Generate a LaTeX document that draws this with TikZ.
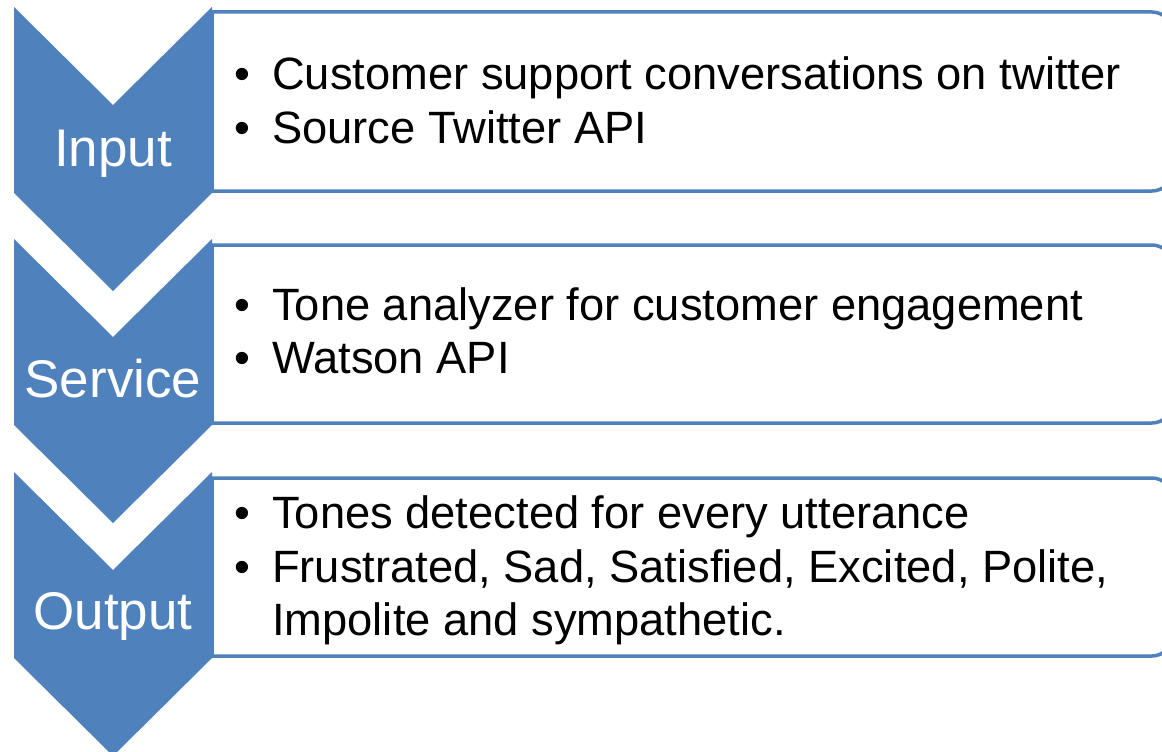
\documentclass[tikz,border=0pt]{standalone}
\usepackage{fontspec}
\setmainfont{Liberation Sans}
\definecolor{acc}{HTML}{4F81BD}
\begin{document}
\begin{tikzpicture}[x=1pt,y=-1pt,
  chev/.style={fill=acc,draw=none},
  panel/.style={draw=acc,line width=3.5pt,fill=white},
  lbl/.style={text=white,font=\fontsize{53}{60}\selectfont,anchor=base,inner sep=0pt},
  item/.style={font=\fontsize{45.3}{54}\selectfont,anchor=base west,inner sep=0pt},
  bul/.style={font=\fontsize{45.3}{54}\selectfont,anchor=base west,inner sep=0pt},
]
\useasboundingbox (0,0) rectangle (1162,752);
% panels
\draw[panel] (212,191) -- (212,12) [rounded corners=20pt] -- (1172,12) -- (1172,191) [sharp corners] -- cycle;
\draw[panel] (212,423) -- (212,245) [rounded corners=20pt] -- (1172,245) -- (1172,423) [sharp corners] -- cycle;
\draw[panel] (212,656) -- (212,478) [rounded corners=20pt] -- (1172,478) -- (1172,656) [sharp corners] -- cycle;
% chevrons
\fill[chev] (14,7) -- (113,105) -- (212,7) -- (212,193) -- (113,291) -- (14,193) -- cycle;
\fill[chev] (14,239) -- (113,337) -- (212,239) -- (212,425) -- (113,523) -- (14,425) -- cycle;
\fill[chev] (14,472) -- (113,570) -- (212,472) -- (212,658) -- (113,756) -- (14,658) -- cycle;
% labels
\node[lbl] (input) at (113,166) {Input};
\node[lbl] (service) at (113,397) {Service};
\node[lbl] (output) at (113,629) {Output};
% box 1
\node[bul] (b11) at (234,89) {•};
\node[item] (t11) at (272,89) {Customer support conversations on twitter};
\node[bul] (b12) at (234,143) {•};
\node[item] (t12) at (272,143) {Source Twitter API};
% box 2
\node[bul] (b21) at (234,320) {•};
\node[item] (t21) at (272,320) {Tone analyzer for customer engagement};
\node[bul] (b22) at (234,373) {•};
\node[item] (t22) at (272,373) {Watson API};
% box 3
\node[bul] (b31) at (234,528) {•};
\node[item] (t31) at (272,528) {Tones detected for every utterance};
\node[bul] (b32) at (234,582) {•};
\node[item] (t32) at (272,582) {Frustrated, Sad, Satisfied, Excited, Polite,};
\node[item] (t33) at (272,635) {Impolite and sympathetic.};
\end{tikzpicture}
\end{document}
